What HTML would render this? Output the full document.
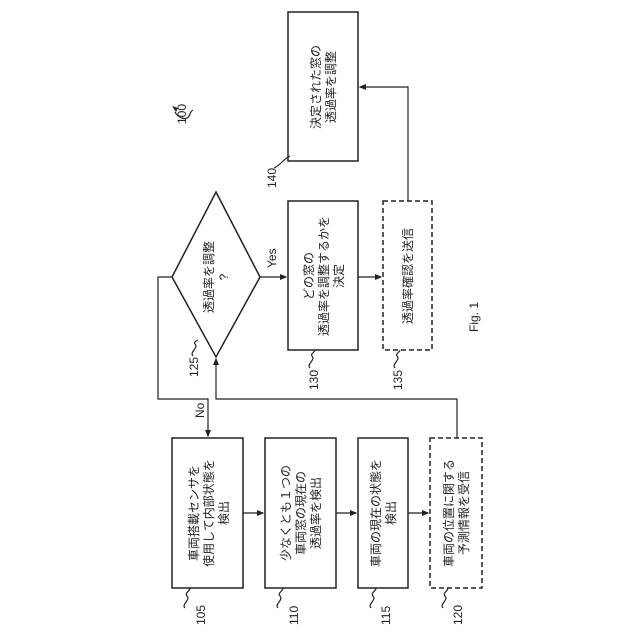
<!DOCTYPE html>
<html><head><meta charset="utf-8"><style>
html,body{margin:0;padding:0;background:#fff}
svg{display:block}
text{font-family:"Liberation Sans","Noto Sans CJK JP",sans-serif;fill:#222}
</style></head><body>
<svg width="640" height="640" viewBox="0 0 640 640" xmlns="http://www.w3.org/2000/svg">
<defs><marker id="a" markerWidth="6" markerHeight="6" refX="5" refY="3" orient="auto"><path d="M0,0.5 L6,3 L0,5.5z" fill="#222"/></marker></defs>
<g fill="none" stroke="#222" stroke-width="1.5">
<rect x="172" y="438" width="71" height="150"/>
<rect x="265" y="438" width="71" height="150"/>
<rect x="358" y="438" width="50" height="150"/>
<rect x="430" y="438" width="52" height="150" stroke-dasharray="5,3"/>
<polygon points="216,192 260,277 216,357 172,277"/>
<rect x="288" y="201" width="70" height="149"/>
<rect x="383" y="201" width="49" height="149" stroke-dasharray="5,3"/>
<rect x="288" y="12" width="70" height="149"/>
<g stroke-width="1.2">
<line x1="243" y1="513" x2="263" y2="513" marker-end="url(#a)"/>
<line x1="336" y1="513" x2="356" y2="513" marker-end="url(#a)"/>
<line x1="408" y1="513" x2="428" y2="513" marker-end="url(#a)"/>
<line x1="260" y1="277" x2="286" y2="277" marker-end="url(#a)"/>
<line x1="358" y1="277" x2="381" y2="277" marker-end="url(#a)"/>
<polyline points="408,201 408,87 360,87" marker-end="url(#a)"/>
<polyline points="172,277 158,277 158,399 208,399 208,436" marker-end="url(#a)"/>
<polyline points="457,438 457,399 216,399 216,359" marker-end="url(#a)"/>
<path d="M185,608 c-4,-4 6,-8 2,-12 c-3,-3 4,-6 3,-8"/>
<path d="M278,608 c-4,-4 6,-8 2,-12 c-3,-3 4,-6 3,-8"/>
<path d="M371,608 c-4,-4 6,-8 2,-12 c-3,-3 4,-6 3,-8"/>
<path d="M443,608 c-4,-4 6,-8 2,-12 c-3,-3 4,-6 3,-8"/>
<path d="M193,356 c-4,-4 6,-8 2,-12 c-2,-2 3,-4 3,-4"/>
<path d="M310,368 c-4,-4 6,-8 2,-12 c-2,-2 3,-4 3,-6"/>
<path d="M395,368 c-4,-4 6,-8 2,-12 c-2,-2 3,-4 3,-6"/>
<path d="M274,168 c4,-2 6,-4 8,-6 c2,-2 4,-4 8,-6"/>
<path d="M175,112 c2,4 8,8 12,6 c4,-2 2,-6 6,-8" />
</g>
</g>
<path d="M172,106 l4,6 l2,-4z" fill="#222"/>
<g font-size="12">
<g transform="translate(208,513) rotate(-90)" text-anchor="middle"><text y="-10">車両搭載センサを</text><text y="5">使用して内部状態を</text><text y="20">検出</text></g>
<g transform="translate(300,513) rotate(-90)" text-anchor="middle"><text y="-10">少なくとも１つの</text><text y="5">車両窓の現在の</text><text y="20">透過率を検出</text></g>
<g transform="translate(383,513) rotate(-90)" text-anchor="middle"><text y="-3">車両の現在の状態を</text><text y="12">検出</text></g>
<g transform="translate(456,513) rotate(-90)" text-anchor="middle"><text y="-3">車両の位置に関する</text><text y="12">予測情報を受信</text></g>
<g transform="translate(216,277) rotate(-90)" text-anchor="middle"><text y="-3">透過率を調整</text><text y="12">?</text></g>
<g transform="translate(323,276) rotate(-90)" text-anchor="middle"><text y="-10">どの窓の</text><text y="5">透過率を調整するかを</text><text y="20">決定</text></g>
<g transform="translate(408,276) rotate(-90)" text-anchor="middle"><text y="4">透過率確認を送信</text></g>
<g transform="translate(323,87) rotate(-90)" text-anchor="middle"><text y="-3">決定された窓の</text><text y="12">透過率を調整</text></g>
<text transform="translate(276,268) rotate(-90)">Yes</text>
<text transform="translate(204,418) rotate(-90)">No</text>
<text transform="translate(205,625) rotate(-90)">105</text>
<text transform="translate(298,625) rotate(-90)">110</text>
<text transform="translate(390,625) rotate(-90)">115</text>
<text transform="translate(462,625) rotate(-90)">120</text>
<text transform="translate(198,377) rotate(-90)">125</text>
<text transform="translate(318,390) rotate(-90)">130</text>
<text transform="translate(402,390) rotate(-90)">135</text>
<text transform="translate(276,188) rotate(-90)">140</text>
<text transform="translate(186,124) rotate(-90)">100</text>
<text transform="translate(478,332) rotate(-90)">Fig. 1</text>
</g>
</svg>
</body></html>
